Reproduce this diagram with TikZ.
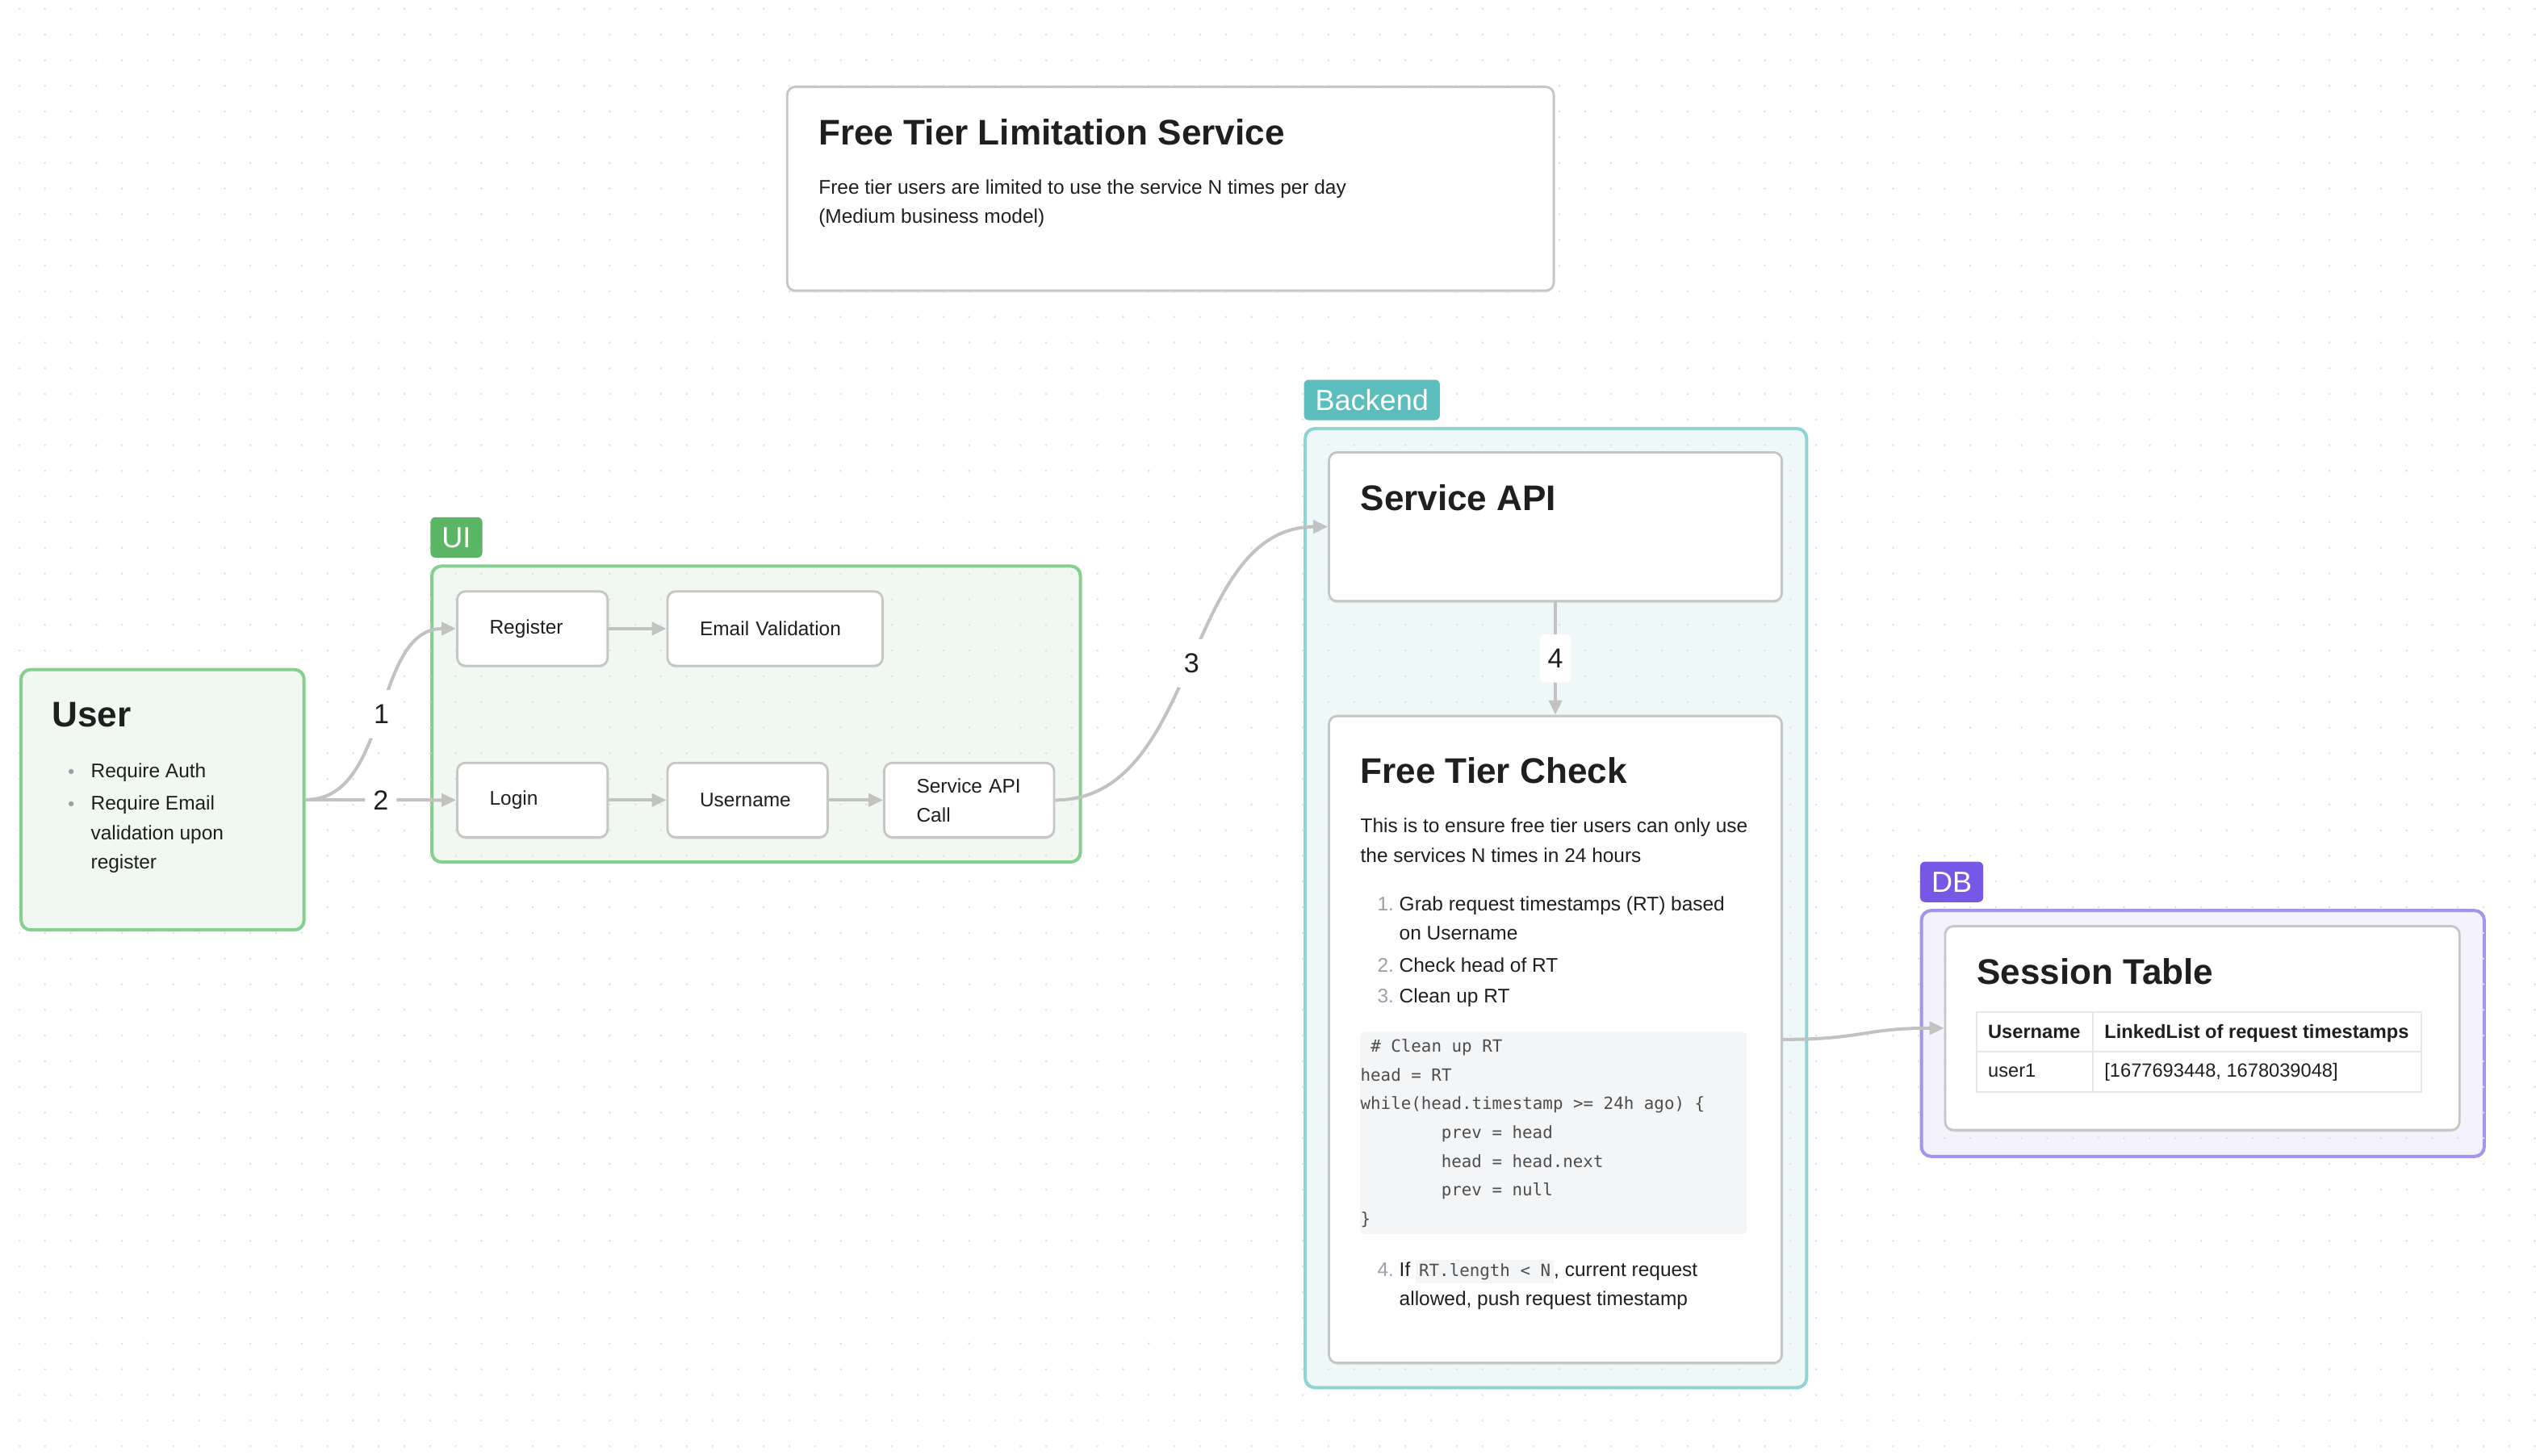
\documentclass[tikz,border=0pt]{standalone}
\usepackage{fontspec}
\setmainfont{Liberation Sans}
\setmonofont{DejaVu Sans Mono}
\usepackage{xcolor}
\usetikzlibrary{positioning,arrows.meta,shadows}

\definecolor{ink}{HTML}{1F1F1F}
\definecolor{edge}{HTML}{C2C2C2}
\definecolor{frame}{HTML}{C6C6C6}
\definecolor{uigreen}{HTML}{5AB564}
\definecolor{uiline}{HTML}{86CF91}
\definecolor{uifill}{HTML}{F1F8F2}
\definecolor{beteal}{HTML}{5BBEBC}
\definecolor{beline}{HTML}{8DD4D3}
\definecolor{befill}{HTML}{EFF8F8}
\definecolor{dbpurple}{HTML}{7757E6}
\definecolor{dbline}{HTML}{A692EF}
\definecolor{dbfill}{HTML}{F4F2FD}
\definecolor{numgray}{HTML}{9AA1AA}
\definecolor{codebg}{HTML}{F4F5F7}
\definecolor{codeink}{HTML}{4D4D4D}
\definecolor{gridc}{HTML}{E0E0E0}
\definecolor{cellline}{HTML}{E6E6EB}

\pgfdeclarelayer{back}
\pgfdeclarelayer{dots}
\pgfsetlayers{back,dots,main}

\newcommand{\inlinecode}[1]{{\setlength{\fboxsep}{2pt}\colorbox{codebg}{\fontsize{10.4}{12}\ttfamily\color{codeink}#1}}}

\begin{document}
\begin{tikzpicture}[x=1pt,y=-1pt,
    font=\fontsize{12.2}{18}\selectfont, text=ink,
    box/.style={draw=frame, line width=1.4pt, fill=white, rounded corners=5pt,
        drop shadow={shadow xshift=0pt, shadow yshift=-1.2pt, opacity=0.15}},
    stepbox/.style={box, anchor=north west, align=left, text width=#1,
        inner xsep=20pt, inner ysep=0pt, minimum height=46pt},
    card/.style={box, anchor=north west, inner sep=0pt},
    zone/.style={draw=#1line, fill=#1fill, line width=2pt, rounded corners=6pt,
        anchor=north west, inner sep=0pt},
    tag/.style={fill=#1, text=white, rounded corners=3pt, font=\fontsize{18}{18}\selectfont,
        inner xsep=7pt, inner ysep=0pt, minimum height=25pt},
    heading/.style={anchor=base west, inner sep=0pt, font=\fontsize{22}{26}\selectfont\bfseries},
    txt/.style={anchor=base west, inner sep=0pt},
    numtag/.style={anchor=base east, inner sep=0pt, text=numgray},
    codeline/.style={anchor=base west, inner sep=0pt, font=\fontsize{10.4}{12}\ttfamily\selectfont, text=codeink},
    flow/.style={draw=edge, line width=2pt, -{Triangle[length=9pt,width=8pt]}},
    numlabel/.style={fill=white, rounded corners=3pt, font=\fontsize{17}{17}\selectfont,
        inner xsep=5pt, inner ysep=9pt}
]
\useasboundingbox (0,0) rectangle (1568,900);

\begin{pgfonlayer}{back}
    \fill[white] (0,0) rectangle (1568,900);
    \node[zone=ui, minimum width=401pt, minimum height=183pt] (uiframe) at (266,349) {};
    \node[zone=be, minimum width=310pt, minimum height=593pt] (beframe) at (806,264) {};
    \node[zone=db, minimum width=348pt, minimum height=152pt] (dbframe) at (1187,562) {};
\end{pgfonlayer}

\begin{pgfonlayer}{dots}
    \foreach \i in {0,...,98}
        \foreach \j in {0,...,56}
            \fill[gridc] (12+15.87*\i,5.5+15.87*\j) circle[radius=0.7pt];
\end{pgfonlayer}

\node[tag=uigreen, above right=4pt and 0pt of uiframe.north west] (uitag) {UI};
\node[tag=beteal, above right=4pt and 0pt of beframe.north west] (betag) {Backend};
\node[tag=dbpurple, above right=4pt and 0pt of dbframe.north west] (dbtag) {DB};

% title card
\node[card, minimum width=474pt, minimum height=126pt] (limit) at (486,53) {};
\node[heading] (limittitle) at (506,89.5) {Free Tier Limitation Service};
\node[txt] (limitline1) at (506,120) {Free tier users are limited to use the service N times per day};
\node[txt] (limitline2) at (506,138) {(Medium business model)};

% user
\node[zone=ui, minimum width=175pt, minimum height=161pt] (user) at (12,413) {};
\node[heading] (usertitle) at (32,449.5) {User};
\foreach \y in {477,497} \fill[numgray] (44,\y) circle[radius=1.6pt];
\node[txt] (userline1) at (56,481) {Require Auth};
\node[txt] (userline2) at (56,501) {Require Email};
\node[txt] (userline3) at (56,519) {validation upon};
\node[txt] (userline4) at (56,537) {register};

% ui steps
\node[stepbox=53pt] (register) at (282,365) {Register};
\node[stepbox=93pt] (emailval) at (412,365) {Email Validation};
\node[stepbox=53pt] (login) at (282,471) {Login};
\node[stepbox=59pt] (username) at (412,471) {Username};
\node[stepbox=65pt] (svccall) at (546,471) {Service API\\Call};

% backend
\node[card, minimum width=280pt, minimum height=92pt] (svcapi) at (821,279) {};
\node[heading] (svctitle) at (841,315.5) {Service API};

\node[card, minimum width=280pt, minimum height=400pt] (ftc) at (821,442) {};
\node[heading] (ftctitle) at (841,484.5) {Free Tier Check};
\node[txt] (ftcline1) at (841,515) {This is to ensure free tier users can only use};
\node[txt] (ftcline2) at (841,533) {the services N times in 24 hours};
\node[numtag] (n1) at (862,563) {1.};
\node[txt] (item1a) at (865,563) {Grab request timestamps (RT) based};
\node[txt] (item1b) at (865,581) {on Username};
\node[numtag] (n2) at (862,601) {2.};
\node[txt] (item2) at (865,601) {Check head of RT};
\node[numtag] (n3) at (862,620) {3.};
\node[txt] (item3) at (865,620) {Clean up RT};
\fill[codebg, rounded corners=3pt] (841,638) rectangle (1080,763);
\node[codeline] (c1) at (847.3,650.5) {\# Clean up RT};
\node[codeline] (c2) at (841,668.3) {head = RT};
\node[codeline] (c3) at (841,686.1) {while(head.timestamp >= 24h ago) \{};
\node[codeline] (c4) at (891,703.9) {prev = head};
\node[codeline] (c5) at (891,721.7) {head = head.next};
\node[codeline] (c6) at (891,739.5) {prev = null};
\node[codeline] (c7) at (841,757.3) {\}};
\node[numtag] (n4) at (862,789) {4.};
\node[txt] (item4a) at (865,789) {If \inlinecode{RT.length < N}, current request};
\node[txt] (item4b) at (865,807) {allowed, push request timestamp};

% db
\node[card, minimum width=318pt, minimum height=126pt] (session) at (1202,572) {};
\node[heading] (sessiontitle) at (1222,608.5) {Session Table};
\draw[cellline, line width=1pt] (1222,626) rectangle (1497,675)
    (1294,626) -- (1294,675) (1222,650) -- (1497,650);
\node[txt, font=\fontsize{11.8}{14}\selectfont\bfseries] (colname) at (1229,642) {Username};
\node[txt, font=\fontsize{11.8}{14}\selectfont\bfseries] (collist) at (1301,642) {LinkedList of request timestamps};
\node[txt, font=\fontsize{11.8}{14}\selectfont] (rowname) at (1229,666) {user1};
\node[txt, font=\fontsize{11.8}{14}\selectfont] (rowlist) at (1301,666) {[1677693448, 1678039048]};

% connectors
\draw[flow] (user.east) .. controls +(53,0) and +(-52,0) .. (register.west) node[numlabel, pos=0.5] (lbl1) {1};
\draw[flow] (user.east) -- node[numlabel] (lbl2) {2} (login.west);
\draw[flow] (register.east) -- (emailval.west);
\draw[flow] (login.east) -- (username.west);
\draw[flow] (username.east) -- (svccall.west);
\draw[flow] (svccall.east) .. controls +(90,0) and +(-90,0) .. (svcapi.west) node[numlabel, pos=0.5] (lbl3) {3};
\draw[flow] (svcapi.south) -- node[numlabel] (lbl4) {4} (ftc.north);
\draw[flow] (ftc.east) .. controls +(50,0) and +(-50,0) .. (session.west);
\end{tikzpicture}
\end{document}
